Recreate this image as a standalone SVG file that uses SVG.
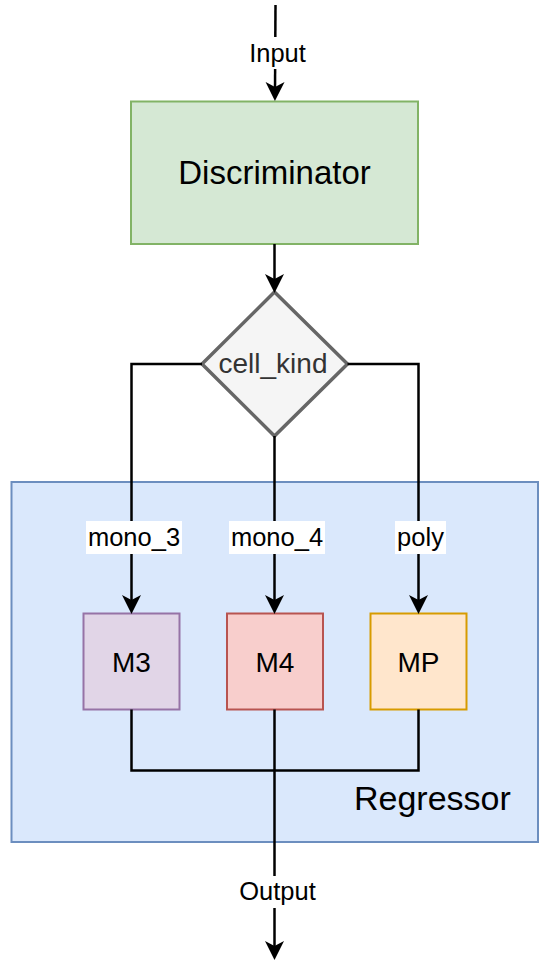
<svg xmlns="http://www.w3.org/2000/svg" width="550" height="969" viewBox="0 0 550 969">
  <defs>
    <marker id="arrow" viewBox="0 0 20 20" markerUnits="userSpaceOnUse" markerWidth="20" markerHeight="20" refX="8" refY="10" orient="auto">
      <path d="M0,0.5 L19,10 L0,19.5 L5,10 Z" fill="#000000"/>
    </marker>
  </defs>
  <style>
    text { font-family: "Liberation Sans", Arial, Helvetica, sans-serif; fill: #000000; }
    .conn { fill: none; stroke: #000000; stroke-width: 2.5; }
    .lbl { font-size: 25.5px; text-anchor: middle; }
    .lblbg { fill: #ffffff; }
    .box { stroke-width: 2; }
    .boxtext { font-size: 28px; text-anchor: middle; }
  </style>

  <rect width="550" height="969" fill="#ffffff"/>

  <g id="regressor">
    <rect x="11.5" y="482" width="526.5" height="360" fill="#dae8fc" stroke="#6c8ebf" stroke-width="2"/>
    <text x="354" y="810" font-size="34">Regressor</text>
  </g>

  <g id="discriminator">
    <rect x="131" y="101.5" width="287" height="142.5" fill="#d5e8d4" stroke="#82b366" stroke-width="2"/>
    <text x="274.5" y="184" font-size="33" text-anchor="middle">Discriminator</text>
  </g>

  <g id="cell_kind">
    <polygon points="274.5,292 347.5,364 274.5,436 202,364" fill="#f5f5f5" stroke="#666666" stroke-width="3.5"/>
    <text x="273" y="373" font-size="28" text-anchor="middle" style="fill:#333333">cell_kind</text>
  </g>

  <g id="m3">
    <rect x="83.5" y="613.5" width="96" height="96" fill="#e1d5e7" stroke="#9673a6" class="box"/>
    <text x="131.5" y="672" class="boxtext">M3</text>
  </g>

  <g id="m4">
    <rect x="227" y="613.5" width="96" height="96" fill="#f8cecc" stroke="#b85450" class="box"/>
    <text x="275" y="672" class="boxtext">M4</text>
  </g>

  <g id="mp">
    <rect x="370.5" y="613.5" width="96" height="96" fill="#ffe6cc" stroke="#d79b00" class="box"/>
    <text x="418.5" y="672" class="boxtext">MP</text>
  </g>

  <g id="connectors">
    <!-- Input -->
    <path class="conn" d="M275.5,5 L275,90" marker-end="url(#arrow)"/>
    <rect class="lblbg" x="246" y="37" width="63" height="32"/>
    <text class="lbl" x="277.5" y="62">Input</text>

    <!-- Discriminator to cell_kind -->
    <path class="conn" d="M274.5,244 L274.5,282" marker-end="url(#arrow)"/>

    <!-- cell_kind branches -->
    <path class="conn" d="M202,364 L131.5,364 L131.5,603" marker-end="url(#arrow)"/>
    <path class="conn" d="M274.5,436 L274.5,603" marker-end="url(#arrow)"/>
    <path class="conn" d="M347.5,364 L418.5,364 L418.5,603" marker-end="url(#arrow)"/>

    <rect class="lblbg" x="86" y="521" width="96" height="33"/>
    <text class="lbl" x="134" y="546">mono_3</text>
    <rect class="lblbg" x="229" y="521" width="96" height="33"/>
    <text class="lbl" x="277" y="546">mono_4</text>
    <rect class="lblbg" x="395" y="521" width="51" height="33"/>
    <text class="lbl" x="420.5" y="546">poly</text>

    <!-- join -->
    <path class="conn" d="M131.5,709.5 L131.5,770.5 L418.5,770.5 L418.5,709.5"/>
    <path class="conn" d="M274.5,709.5 L274.5,949" marker-end="url(#arrow)"/>
    <rect class="lblbg" x="238" y="876" width="79" height="32"/>
    <text class="lbl" x="277.5" y="900">Output</text>
  </g>
</svg>
